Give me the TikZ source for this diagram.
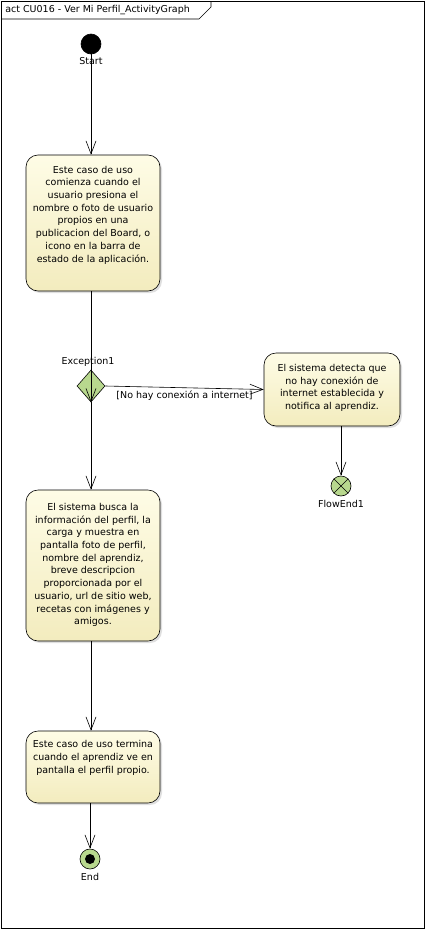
\documentclass[tikz,border=0pt]{standalone}
\usepackage{fontspec}
\setmainfont{DejaVu Sans}
\usetikzlibrary{shapes.geometric,arrows.meta,shadows}

\definecolor{boxtop}{RGB}{254,252,230}
\definecolor{boxbot}{RGB}{243,236,190}
\definecolor{nodegreen}{RGB}{184,216,142}

\begin{document}
\begin{tikzpicture}[x=1pt, y=-1pt, line width=0.6pt,
	font=\fontsize{9.5}{12.7}\selectfont,
	act/.style = {draw, rounded corners=12pt, top color=boxtop, bottom color=boxbot, minimum width=134pt,
		drop shadow={opacity=0.25, shadow xshift=2pt, shadow yshift=-2pt}},
	txt/.style = {align=center, inner sep=0pt},
	dot/.style = {draw, circle, inner sep=0pt, minimum size=20pt},
	flow/.style = {-{Straight Barb[length=13pt, width=10pt]}}]
	\useasboundingbox (0,0) rectangle (425,929);
	\draw (1,1) rectangle (424,928);
	\draw (1,19) -- (199,19) -- (211,7) -- (211,1);
	\node[anchor=west, inner sep=0pt] (title) at (5,10) {act CU016 - Ver Mi Perfil\_ActivityGraph};

	\node[dot, fill=black, label={[label distance=0pt]below:Start}] (start) at (91,44) {};

	\node[act, minimum height=136pt] (act1) at (93,223) {};
	\node[txt] (t1) at (93,215) {Este caso de uso\\comienza cuando el\\usuario presiona el\\nombre o foto de usuario\\propios en una\\publicacion del Board, o\\icono en la barra de\\estado de la aplicación.};

	\node[draw, diamond, fill=nodegreen, inner sep=0pt, minimum width=28pt, minimum height=32pt,
		label={[label distance=0pt, xshift=-3pt]above:Exception1}] (exc) at (91,386) {};

	\node[act, minimum width=136pt, minimum height=73pt] (act2) at (332,389.5) {};
	\node[txt] (t2) at (332,388) {El sistema detecta que\\no hay conexión de\\internet establecida y\\notifica al aprendiz.};

	\node[dot, fill=nodegreen, label={[label distance=0pt]below:FlowEnd1}] (fend) at (341,486) {};
	\draw (fend.north east) -- (fend.south west);
	\draw (fend.north west) -- (fend.south east);

	\node[act, minimum height=151pt] (act3) at (93,565.5) {};
	\node[txt] (t3) at (93,565) {El sistema busca la\\información del perfil, la\\carga y muestra en\\pantalla foto de perfil,\\nombre del aprendiz,\\breve descripcion\\proporcionada por el\\usuario, url de sitio web,\\recetas con imágenes y\\amigos.};

	\node[act, minimum height=72pt] (act4) at (93,767) {};
	\node[txt] (t4) at (93,758) {Este caso de uso termina\\cuando el aprendiz ve en\\pantalla el perfil propio.};

	\node[dot, fill=nodegreen, label={[label distance=0pt]below:End}] (fin) at (90,859) {};
	\node[circle, fill=black, inner sep=0pt, minimum size=10pt] (findot) at (fin) {};

	\draw[flow] (start) -- (act1.north -| start);
	\draw[flow] (act1.south -| exc) -- (exc.south);
	\draw[flow] (exc.east) -- node[below, inner sep=3pt] {[No hay conexión a internet]} (act2.west);
	\draw[flow] (act2.south -| fend) -- (fend);
	\draw[flow] (exc.south) -- (act3.north -| exc);
	\draw[flow] (act3.south -| exc) -- (act4.north -| exc);
	\draw[flow] (act4.south -| fin) -- (fin);
\end{tikzpicture}
\end{document}
